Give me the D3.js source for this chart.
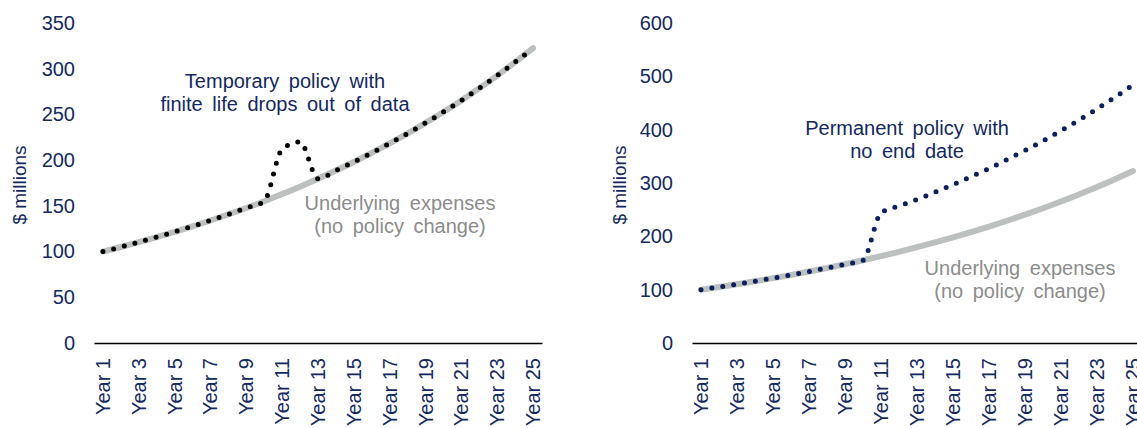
<!DOCTYPE html>
<html>
<head>
<meta charset="utf-8">
<script src="https://d3js.org/d3.v7.min.js"></script>
<style>
  body { margin: 0; background: #fff; }
  text { font-family: "Liberation Sans", Arial, sans-serif; }
</style>
</head>
<body>
<div id="chart"></div>
<script>

// data
var years = ["Year 1","Year 2","Year 3","Year 4","Year 5","Year 6","Year 7","Year 8","Year 9","Year 10",
  "Year 11","Year 12","Year 13","Year 14","Year 15","Year 16","Year 17","Year 18","Year 19","Year 20",
  "Year 21","Year 22","Year 23","Year 24","Year 25"];

var underlying = [100, 105, 110.3, 115.8, 121.6, 127.6, 134, 140.7, 147.7, 155.1,
  162.9, 171, 179.6, 188.6, 198, 207.9, 218.3, 229.2, 240.7, 252.7,
  265.3, 278.6, 292.5, 307.2, 322.5];

var temporary = [100, 105, 110.3, 115.8, 121.6, 127.6, 134, 140.7, 147.7, 155.1,
  212, 220, 179.6, 188.6, 198, 207.9, 218.3, 229.2, 240.7, 252.7,
  265.3, 278.6, 292.5, 307.2, 322.5];

var permanent = [100, 105, 110.3, 115.8, 121.6, 127.6, 134, 140.7, 147.7, 155.1,
  244, 257, 269, 283, 297, 312, 327, 344, 361, 379,
  398, 418, 439, 461, 484];

var leftTicks = [0, 50, 100, 150, 200, 250, 300, 350];
var rightTicks = [0, 100, 200, 300, 400, 500, 600];
var shownYears = ["Year 1","Year 3","Year 5","Year 7","Year 9","Year 11","Year 13","Year 15",
  "Year 17","Year 19","Year 21","Year 23","Year 25"];

var navy = "#13295f",
    grey = "#bcc0bf",
    greyText = "#8c8c8c";

var svg = d3.select("#chart").append("svg")
  .attr("width", 1137)
  .attr("height", 428);

function panel(opts) {
  var g = svg.append("g");

  var x = d3.scaleBand().domain(years).range([opts.x0, opts.x1]);
  var y = d3.scaleLinear().domain([0, opts.max]).range([343, 23]);

  // y axis labels, no line
  var yAxis = d3.axisLeft(y).tickValues(opts.ticks).tickSize(0).tickPadding(0);
  var ya = g.append("g")
    .attr("transform", "translate(" + opts.labelX + ",0)")
    .call(yAxis);
  ya.select(".domain").remove();
  ya.selectAll("text")
    .attr("fill", navy)
    .style("font-size", "20px");

  g.append("text")
    .attr("transform", "translate(" + opts.titleX + ",185) rotate(-90)")
    .attr("text-anchor", "middle")
    .attr("fill", navy)
    .style("font-size", "19px")
    .text("$ millions");

  // x axis
  var xAxis = d3.axisBottom(x).tickValues(shownYears).tickSize(0).tickPadding(0);
  var xa = g.append("g")
    .attr("transform", "translate(0,343)")
    .call(xAxis);
  xa.select(".domain")
    .attr("stroke", "#000")
    .attr("stroke-width", 1.6);
  xa.selectAll("text")
    .attr("fill", navy)
    .style("font-size", "20px")
    .attr("text-anchor", "end")
    .attr("transform", "translate(0,15) rotate(-90)")
    .attr("x", 0)
    .attr("y", 0)
    .attr("dy", "0.35em");

  var line = d3.line()
    .x(function(d, i) { return x(years[i]) + x.bandwidth() / 2; })
    .y(function(d) { return y(d); })
    .curve(d3.curveMonotoneX);

  g.append("path")
    .datum(underlying)
    .attr("d", line)
    .attr("fill", "none")
    .attr("stroke", grey)
    .attr("stroke-width", 6)
    .attr("stroke-linecap", "round");

  g.append("path")
    .datum(opts.policy)
    .attr("d", line)
    .attr("fill", "none")
    .attr("stroke", opts.dotColor)
    .attr("stroke-width", 5)
    .attr("stroke-linecap", "round")
    .attr("stroke-dasharray", "0 11");

  // annotations
  function note(lines, cx, y0, color) {
    var t = g.append("text")
      .attr("text-anchor", "middle")
      .attr("fill", color)
      .style("font-size", "20px")
      .style("word-spacing", "4px");
    lines.forEach(function(s, i) {
      t.append("tspan").attr("x", cx).attr("y", y0 + i * 23).text(s);
    });
  }
  note(opts.policyNote, opts.noteX, opts.noteY, navy);
  note(["Underlying expenses", "(no policy change)"], opts.greyX, opts.greyY, greyText);
}

panel({
  x0: 94, x1: 542, max: 350, ticks: leftTicks, labelX: 75, titleX: 26,
  policy: temporary, dotColor: "#000",
  policyNote: ["Temporary policy with", "finite life drops out of data"], noteX: 285, noteY: 88,
  greyX: 400, greyY: 210
});

panel({
  x0: 692, x1: 1142, max: 600, ticks: rightTicks, labelX: 673, titleX: 626,
  policy: permanent, dotColor: "#0a1f5c",
  policyNote: ["Permanent policy with", "no end date"], noteX: 907, noteY: 135,
  greyX: 1020, greyY: 275
});

</script>
</body>
</html>
